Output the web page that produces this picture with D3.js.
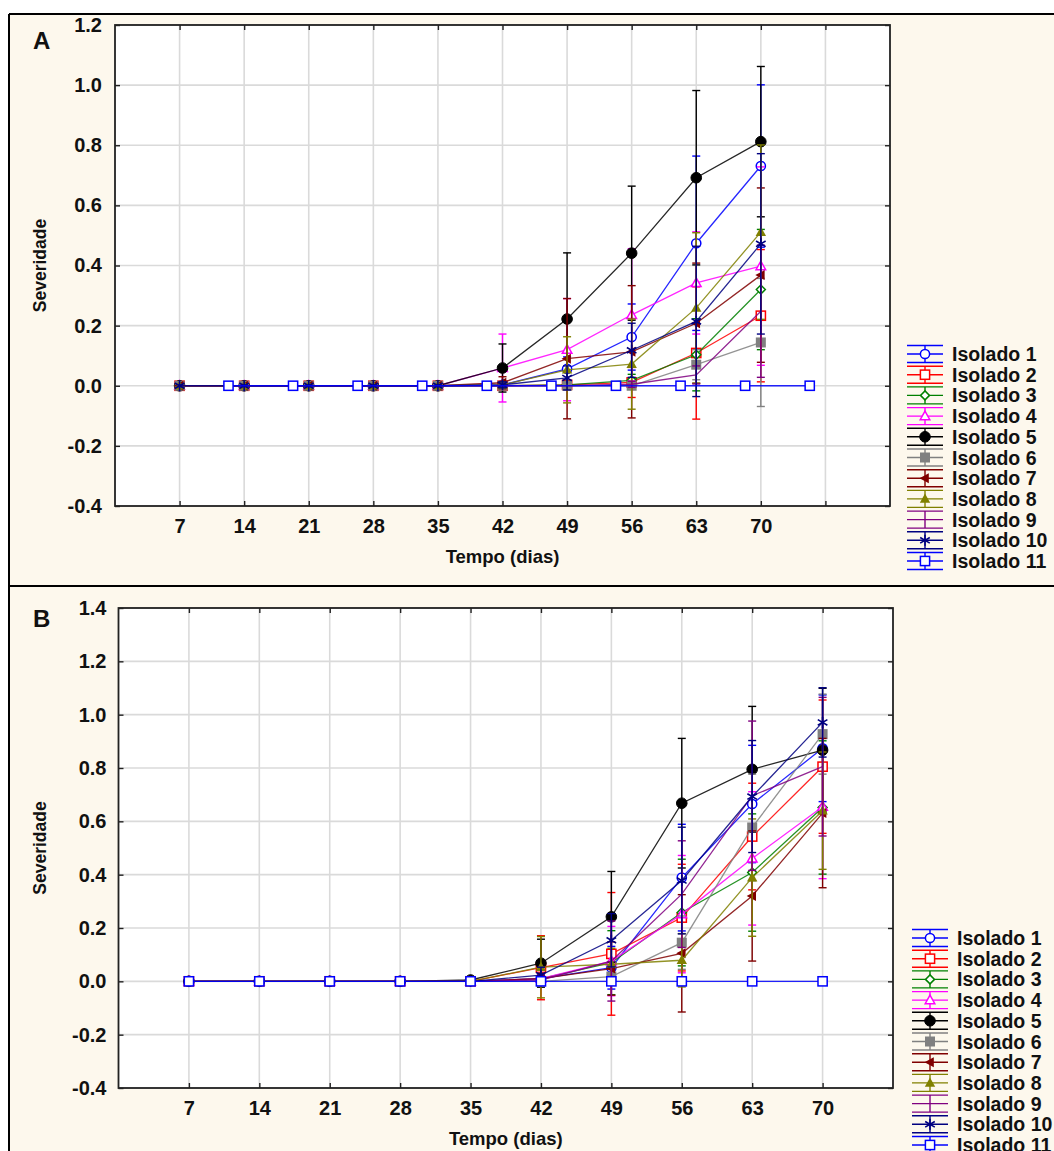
<!DOCTYPE html>
<html><head><meta charset="utf-8">
<script src="https://cdn.jsdelivr.net/npm/d3@7"></script>
<style>
body{margin:0;background:#fff}
text{font-family:"Liberation Sans",Arial,sans-serif;font-weight:bold;fill:#111}
</style>
</head><body>
<svg id="c" width="1054" height="1151"></svg>
<script>
// ---------- data ----------
const seriesNames = ["Isolado 1","Isolado 2","Isolado 3","Isolado 4","Isolado 5","Isolado 6","Isolado 7","Isolado 8","Isolado 9","Isolado 10","Isolado 11"];
const seriesColors = ["#0000ff","#ff0000","#008000","#ff00ff","#000000","#808080","#800000","#808000","#800080","#000080","#0000ff"];
const days = [7,14,21,28,35,42,49,56,63,70];
const daysA11 = [12.3,19.3,26.3,33.3,40.3,47.3,54.3,61.3,68.3,75.3];

const xTicksA = [7,14,21,28,35,42,49,56,63,70,77];
const xTicksB = [7,14,21,28,35,42,49,56,63,70];
const xTickLabels = ["7","14","21","28","35","42","49","56","63","70"];
const yTicksA = [-0.4,-0.2,0.0,0.2,0.4,0.6,0.8,1.0,1.2];
const yTicksB = [-0.4,-0.2,0.0,0.2,0.4,0.6,0.8,1.0,1.2,1.4];

// Panel A means
const A1  = [0,0,0,0,0,0.003,0.056,0.162,0.474,0.731];
const A2  = [0,0,0,0,0,0,0.003,0.011,0.109,0.233];
const A3  = [0,0,0,0,0,0,0.003,0.018,0.103,0.320];
const A4  = [0,0,0,0,0,0.059,0.120,0.236,0.342,0.398];
const A5  = [0,0,0,0,0,0.059,0.222,0.441,0.692,0.812];
const A6  = [0,0,0,0,0,0,0,0,0.070,0.144];
const A7  = [0,0,0,0,0,0.010,0.090,0.113,0.208,0.368];
const A8  = [0,0,0,0,0,0.003,0.053,0.072,0.259,0.511];
const A9  = [0,0,0,0,0,0,0,0.005,0.036,0.248];
const A10 = [0,0,0,0,0,0.003,0.026,0.118,0.214,0.472];
const A11 = [0,0,0,0,0,0,0,0,0,0];
// Panel A error half-widths
const EA1  = [0,0,0,0,0,0.01,0.04,0.11,0.29,0.27];
const EA2  = [0,0,0,0,0,0,0.01,0.05,0.22,0.22];
const EA3  = [0,0,0,0,0,0,0.01,0.02,0.12,0.20];
const EA4  = [0,0,0,0,0,0.113,0.17,0.22,0.17,0.33];
const EA5  = [0,0,0,0,0,0.08,0.22,0.223,0.29,0.25];
const EA6  = [0,0,0,0,0,0,0,0.01,0.05,0.213];
const EA7  = [0,0,0,0,0,0.02,0.20,0.22,0.20,0.29];
const EA8  = [0,0,0,0,0,0.01,0.11,0.15,0.25,0.29];
const EA9  = [0,0,0,0,0,0,0,0.01,0.03,0.22];
const EA10 = [0,0,0,0,0,0.01,0.04,0.09,0.25,0.30];
const EA11 = [0,0,0,0,0,0,0,0,0,0];

// Panel B means
const B1  = [0,0,0,0,0,0.010,0.051,0.389,0.665,0.874];
const B2  = [0,0,0,0,0,0.051,0.103,0.239,0.543,0.805];
const B3  = [0,0,0,0,0,0.010,0.070,0.258,0.408,0.652];
const B4  = [0,0,0,0,0,0.010,0.076,0.252,0.461,0.655];
const B5  = [0,0,0,0,0.005,0.068,0.242,0.668,0.795,0.867];
const B6  = [0,0,0,0,0,0,0.018,0.145,0.577,0.927];
const B7  = [0,0,0,0,0,0.010,0.048,0.105,0.320,0.631];
const B8  = [0,0,0,0,0,0.053,0.064,0.079,0.389,0.640];
const B9  = [0,0,0,0,0,0.005,0.076,0.327,0.696,0.805];
const B10 = [0,0,0,0,0,0.023,0.154,0.378,0.693,0.971];
const B11 = [0,0,0,0,0,0,0,0,0,0];
// Panel B error half-widths
const EB1  = [0,0,0,0,0,0.02,0.08,0.20,0.22,0.20];
const EB2  = [0,0,0,0,0,0.12,0.23,0.20,0.20,0.25];
const EB3  = [0,0,0,0,0,0.02,0.12,0.20,0.22,0.25];
const EB4  = [0,0,0,0,0,0.02,0.13,0.22,0.25,0.27];
const EB5  = [0,0,0,0,0.01,0.09,0.17,0.243,0.236,0.232];
const EB6  = [0,0,0,0,0,0,0.03,0.10,0.20,0.15];
const EB7  = [0,0,0,0,0,0.02,0.10,0.22,0.244,0.28];
const EB8  = [0,0,0,0,0,0.115,0.06,0.10,0.22,0.22];
const EB9  = [0,0,0,0,0,0.02,0.15,0.20,0.28,0.26];
const EB10 = [0,0,0,0,0,0.03,0.10,0.20,0.21,0.13];
const EB11 = [0,0,0,0,0,0,0,0,0,0];

const meansA = [A1,A2,A3,A4,A5,A6,A7,A8,A9,A10,A11];
const errsA  = [EA1,EA2,EA3,EA4,EA5,EA6,EA7,EA8,EA9,EA10,EA11];
const meansB = [B1,B2,B3,B4,B5,B6,B7,B8,B9,B10,B11];
const errsB  = [EB1,EB2,EB3,EB4,EB5,EB6,EB7,EB8,EB9,EB10,EB11];
const xsA = [days,days,days,days,days,days,days,days,days,days,daysA11];
const xsB = [days,days,days,days,days,days,days,days,days,days,days];

// marker kinds per series
const markerKinds = ["circleOpen","squareOpen","diamondOpen","triangleOpen","circleFilled","squareFilled","triLeftFilled","triangleFilled","none","asterisk","squareOpen"];

// ---------- drawing ----------
const svg = d3.select("#c");
const cream = "#fdf8ed";

svg.append("rect").attr("x",9).attr("y",14).attr("width",1054-9).attr("height",1151-14).attr("fill",cream);
svg.append("line").attr("x1",9).attr("x2",1054).attr("y1",14).attr("y2",14).attr("stroke","#000").attr("stroke-width",2);
svg.append("line").attr("x1",9).attr("x2",9).attr("y1",14).attr("y2",1151).attr("stroke","#000").attr("stroke-width",2);
svg.append("line").attr("x1",9).attr("x2",1054).attr("y1",586).attr("y2",586).attr("stroke","#000").attr("stroke-width",2);

function drawMarker(g, kind, color, cx, cy){
  const s = g.append("g").attr("transform",`translate(${cx},${cy})`);
  const sw = 1.5;
  switch(kind){
    case "circleOpen": s.append("circle").attr("r",4.6).attr("fill","#fff").attr("stroke",color).attr("stroke-width",sw); break;
    case "circleFilled": s.append("circle").attr("r",5.3).attr("fill",color).attr("stroke",color); break;
    case "squareOpen": s.append("rect").attr("x",-4.6).attr("y",-4.6).attr("width",9.2).attr("height",9.2).attr("fill","#fff").attr("stroke",color).attr("stroke-width",sw); break;
    case "squareFilled": s.append("rect").attr("x",-5).attr("y",-5).attr("width",10).attr("height",10).attr("fill",color); break;
    case "diamondOpen": s.append("path").attr("d","M0,-4.5L4.5,0L0,4.5L-4.5,0Z").attr("fill","#fff").attr("stroke",color).attr("stroke-width",sw); break;
    case "triangleOpen": s.append("path").attr("d","M0,-5L4.8,3.6L-4.8,3.6Z").attr("fill","#fff").attr("stroke",color).attr("stroke-width",sw); break;
    case "triangleFilled": s.append("path").attr("d","M0,-5.5L5.2,3.8L-5.2,3.8Z").attr("fill",color); break;
    case "triLeftFilled": s.append("path").attr("d","M-5.5,0L3.8,-5L3.8,5Z").attr("fill",color); break;
    case "asterisk":
      s.append("path").attr("d","M0,-5.5V5.5M-4.8,-2.8L4.8,2.8M-4.8,2.8L4.8,-2.8").attr("stroke",color).attr("stroke-width",1.6).attr("fill","none");
      break;
    default: break;
  }
}

function panel(cfg){
  const g = svg.append("g");
  const x = d3.scaleLinear().domain([0,cfg.xmax]).range([cfg.left,cfg.right]);
  const y = d3.scaleLinear().domain([cfg.ymin,cfg.ymax]).range([cfg.bottom,cfg.top]);
  g.append("rect").attr("x",cfg.left).attr("y",cfg.top).attr("width",cfg.right-cfg.left).attr("height",cfg.bottom-cfg.top).attr("fill","#fff");
  g.append("g").selectAll("line").data(cfg.xticks).join("line")
    .attr("x1",d=>x(d)).attr("x2",d=>x(d)).attr("y1",cfg.top).attr("y2",cfg.bottom)
    .attr("stroke","#dadada").attr("stroke-width",1.6);
  g.append("g").selectAll("line").data(cfg.yticks).join("line")
    .attr("x1",cfg.left).attr("x2",cfg.right).attr("y1",d=>y(d)).attr("y2",d=>y(d))
    .attr("stroke","#dadada").attr("stroke-width",1.6);

  for(let i=0;i<cfg.means.length;i++){
    const col = seriesColors[i];
    const pts = cfg.means[i].map((v,j)=>({x:cfg.xs[i][j], v, e:cfg.errs[i][j]}));
    const sg = g.append("g");
    pts.filter(p=>p.e>0).forEach(p=>{
      const cx = x(p.x), y1 = y(p.v+p.e), y2 = y(p.v-p.e);
      sg.append("line").attr("x1",cx).attr("x2",cx).attr("y1",y1).attr("y2",y2).attr("stroke",col).attr("stroke-width",1.4);
      sg.append("line").attr("x1",cx-4).attr("x2",cx+4).attr("y1",y1).attr("y2",y1).attr("stroke",col).attr("stroke-width",1.4);
      sg.append("line").attr("x1",cx-4).attr("x2",cx+4).attr("y1",y2).attr("y2",y2).attr("stroke",col).attr("stroke-width",1.4);
    });
    sg.append("path").datum(pts)
      .attr("d",d3.line().x(p=>x(p.x)).y(p=>y(p.v)))
      .attr("fill","none").attr("stroke",col).attr("stroke-width",1.3).attr("stroke-opacity",0.85);
    pts.forEach(p=>drawMarker(sg, markerKinds[i], col, x(p.x), y(p.v)));
  }

  const fmt = d => d3.format(".1f")(d).replace("\u2212","-");
  const ax = g.append("g").attr("transform",`translate(0,${cfg.bottom})`)
    .call(d3.axisBottom(x).tickValues(cfg.xticks).tickSize(-5).tickPadding(13)
      .tickFormat(d=>{const k=days.indexOf(d); return k>=0 ? xTickLabels[k] : "";}));
  const ay = g.append("g").attr("transform",`translate(${cfg.left},0)`)
    .call(d3.axisLeft(y).tickValues(cfg.yticks).tickSize(-5).tickPadding(cfg.ypad).tickFormat(fmt));
  const at = g.append("g").attr("transform",`translate(0,${cfg.top})`)
    .call(d3.axisTop(x).tickValues(cfg.xticks).tickSize(-5).tickFormat(""));
  const ar = g.append("g").attr("transform",`translate(${cfg.right},0)`)
    .call(d3.axisRight(y).tickValues(cfg.yticks).tickSize(-5).tickFormat(""));
  [ax,ay,at,ar].forEach(a=>{
    a.select(".domain").remove();
    a.selectAll(".tick line").attr("stroke","#222").attr("stroke-width",1.4);
    a.selectAll("text").attr("font-size","20px").attr("font-family","'Liberation Sans',Arial,sans-serif").attr("font-weight","bold").attr("fill","#111");
  });
  g.append("rect").attr("x",cfg.left).attr("y",cfg.top).attr("width",cfg.right-cfg.left).attr("height",cfg.bottom-cfg.top)
    .attr("fill","none").attr("stroke","#222").attr("stroke-width",1.8);

  g.append("text").attr("x",(cfg.left+cfg.right)/2).attr("y",cfg.bottom+57).attr("text-anchor","middle").attr("font-size","18.5px").text("Tempo (dias)");
  g.append("text").attr("transform",`translate(46,${(cfg.top+cfg.bottom)/2}) rotate(-90)`).attr("text-anchor","middle").attr("font-size","17.5px").text("Severidade");
  g.append("text").attr("x",33).attr("y",cfg.letterY).attr("font-size","24px").attr("fill","#000").text(cfg.letter);

  const lg = g.append("g");
  seriesNames.forEach((n,i)=>{
    const cy = cfg.legY + i*20.7;
    const col = seriesColors[i];
    const x0 = cfg.legX, x1 = cfg.legX+36, xc = cfg.legX+18;
    [cy-8.5, cy, cy+8.5].forEach(yy=>lg.append("line").attr("x1",x0).attr("x2",x1).attr("y1",yy).attr("y2",yy).attr("stroke",col).attr("stroke-width",1.4));
    lg.append("line").attr("x1",xc).attr("x2",xc).attr("y1",cy-8.5).attr("y2",cy+8.5).attr("stroke",col).attr("stroke-width",1.4);
    drawMarker(lg, markerKinds[i], col, xc, cy);
    lg.append("text").attr("x",x1+9).attr("y",cy+7).attr("font-size","19.5px").text(n);
  });
}

panel({left:115,right:890,top:25,bottom:506,xmax:84,ymin:-0.4,ymax:1.2,
  xticks:xTicksA,yticks:yTicksA,means:meansA,errs:errsA,xs:xsA,ypad:13,
  letter:"A",letterY:49,legX:907,legY:354});
panel({left:118.5,right:893,top:608,bottom:1088,xmax:77,ymin:-0.4,ymax:1.4,
  xticks:xTicksB,yticks:yTicksB,means:meansB,errs:errsB,xs:xsB,ypad:12,
  letter:"B",letterY:627,legX:912,legY:938});
</script>
</body></html>
